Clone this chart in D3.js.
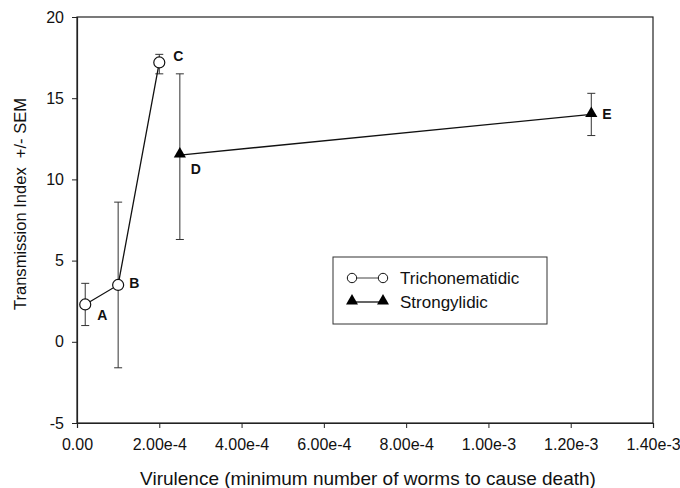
<!DOCTYPE html>
<html>
<head>
<meta charset="utf-8">
<script src="https://cdn.jsdelivr.net/npm/d3@7"></script>
<style>
body { margin: 0; background: #fff; }
text { font-family: Arial, "Liberation Sans", sans-serif; }
</style>
</head>
<body>
<script>
/* data */
var trichoX = [2e-5, 1e-4, 2e-4];
var trichoY = [2.3, 3.5, 17.2];
var trichoLo = [1.0, -1.6, 16.5];
var trichoHi = [3.6, 8.6, 17.7];
var trichoLabels = ["A", "B", "C"];

var strongX = [2.5e-4, 1.25e-3];
var strongY = [11.5, 14.0];
var strongLo = [6.3, 12.7];
var strongHi = [16.5, 15.3];
var strongLabels = ["D", "E"];

var xTicks = [0, 2e-4, 4e-4, 6e-4, 8e-4, 1e-3, 1.2e-3, 1.4e-3];
var xTickLabels = ["0.00", "2.00e-4", "4.00e-4", "6.00e-4", "8.00e-4", "1.00e-3", "1.20e-3", "1.40e-3"];
var yTicks = [-5, 0, 5, 10, 15, 20];
var yTickLabels = ["-5", "0", "5", "10", "15", "20"];
var legendNames = ["Trichonematidic", "Strongylidic"];

var W = 680, H = 488;
var pLeft = 77, pTop = 17, pRight = 653, pBottom = 423;

var svg = d3.select("body").append("svg")
    .attr("width", W)
    .attr("height", H);

var x = d3.scaleLinear().domain([0, 1.4e-3]).range([pLeft, pRight]);
var y = d3.scaleLinear().domain([-5, 20]).range([pBottom, pTop]);

/* frame */
svg.append("rect")
    .attr("x", pLeft).attr("y", pTop)
    .attr("width", pRight - pLeft).attr("height", pBottom - pTop)
    .attr("fill", "none").attr("stroke", "#222").attr("stroke-width", 1.2);

/* axes */
var xAxis = d3.axisBottom(x).tickValues(xTicks)
    .tickFormat(function (d, i) { return xTickLabels[i]; })
    .tickSizeOuter(0).tickSize(5).tickPadding(11);
var gx = svg.append("g").attr("transform", "translate(0," + pBottom + ")").call(xAxis);

var yAxis = d3.axisLeft(y).tickValues(yTicks)
    .tickFormat(function (d, i) { return yTickLabels[i]; })
    .tickSizeOuter(0).tickSize(5).tickPadding(8);
var gy = svg.append("g").attr("transform", "translate(" + pLeft + ",0)").call(yAxis);

[gx, gy].forEach(function (g) {
    g.select(".domain").attr("stroke", "#222").attr("stroke-width", 1.2);
    g.selectAll(".tick line").attr("stroke", "#222");
    g.selectAll(".tick text").attr("font-size", 16).attr("fill", "#111")
        .style("font-family", "Arial, 'Liberation Sans', sans-serif");
});

/* axis titles */
svg.append("text")
    .attr("x", 368).attr("y", 485)
    .attr("text-anchor", "middle").attr("font-size", 19).attr("fill", "#111")
    .text("Virulence (minimum number of worms to cause death)");

svg.append("text")
    .attr("transform", "translate(26,204) rotate(-90)")
    .attr("text-anchor", "middle").attr("font-size", 17).attr("fill", "#111")
    .attr("textLength", 212).attr("lengthAdjust", "spacingAndGlyphs")
    .style("white-space", "pre")
    .text("Transmission Index  +/- SEM");

/* error bars */
function errorBars(xs, lo, hi) {
    var g = svg.append("g").attr("stroke", "#333").attr("stroke-width", 1);
    xs.forEach(function (v, i) {
        var cx = x(v);
        g.append("line").attr("x1", cx).attr("x2", cx).attr("y1", y(lo[i])).attr("y2", y(hi[i]));
        g.append("line").attr("x1", cx - 4).attr("x2", cx + 4).attr("y1", y(lo[i])).attr("y2", y(lo[i]));
        g.append("line").attr("x1", cx - 4).attr("x2", cx + 4).attr("y1", y(hi[i])).attr("y2", y(hi[i]));
    });
}
errorBars(trichoX, trichoLo, trichoHi);
errorBars(strongX, strongLo, strongHi);

/* lines */
var line = d3.line().x(function (d) { return x(d[0]); }).y(function (d) { return y(d[1]); });
svg.append("path")
    .datum(trichoX.map(function (v, i) { return [v, trichoY[i]]; }))
    .attr("d", line).attr("fill", "none").attr("stroke", "#111").attr("stroke-width", 1.3);
svg.append("path")
    .datum(strongX.map(function (v, i) { return [v, strongY[i]]; }))
    .attr("d", line).attr("fill", "none").attr("stroke", "#111").attr("stroke-width", 1.3);

/* markers */
var tri = d3.symbol().type(d3.symbolTriangle).size(64);
svg.selectAll(".circ").data(trichoX).enter().append("circle")
    .attr("cx", function (d) { return x(d); })
    .attr("cy", function (d, i) { return y(trichoY[i]); })
    .attr("r", 5.5).attr("fill", "#fff").attr("stroke", "#111").attr("stroke-width", 1.2);
svg.selectAll(".tri").data(strongX).enter().append("path")
    .attr("d", tri)
    .attr("transform", function (d, i) { return "translate(" + x(d) + "," + (y(strongY[i]) - 1) + ")"; })
    .attr("fill", "#000");

/* point labels */
var labelOffsets = [[12, 16], [11, 3], [14, -1], [11, 19], [11, 5]];
var allX = trichoX.concat(strongX), allY = trichoY.concat(strongY);
var allLab = trichoLabels.concat(strongLabels);
allLab.forEach(function (t, i) {
    svg.append("text")
        .attr("x", x(allX[i]) + labelOffsets[i][0])
        .attr("y", y(allY[i]) + labelOffsets[i][1])
        .attr("font-size", 14).attr("font-weight", "bold").attr("fill", "#111")
        .text(t);
});

/* legend */
var lg = svg.append("g");
lg.append("rect").attr("x", 333).attr("y", 257).attr("width", 214).attr("height", 67)
    .attr("fill", "#fff").attr("stroke", "#333").attr("stroke-width", 1);
legendNames.forEach(function (name, i) {
    var ly = 278 + i * 24;
    lg.append("line").attr("x1", 352).attr("x2", 383).attr("y1", ly).attr("y2", ly)
        .attr("stroke", "#111").attr("stroke-width", i === 0 ? 0.8 : 1.3);
    [352, 383].forEach(function (lx) {
        if (i === 0) {
            lg.append("circle").attr("cx", lx).attr("cy", ly).attr("r", 4.7)
                .attr("fill", "#fff").attr("stroke", "#111").attr("stroke-width", 1);
        } else {
            lg.append("path").attr("d", d3.symbol().type(d3.symbolTriangle).size(62))
                .attr("transform", "translate(" + lx + "," + (ly - 1) + ")").attr("fill", "#000");
        }
    });
    lg.append("text").attr("x", 400).attr("y", ly + 6)
        .attr("font-size", 17).attr("fill", "#111").text(name);
});
</script>
</body>
</html>
